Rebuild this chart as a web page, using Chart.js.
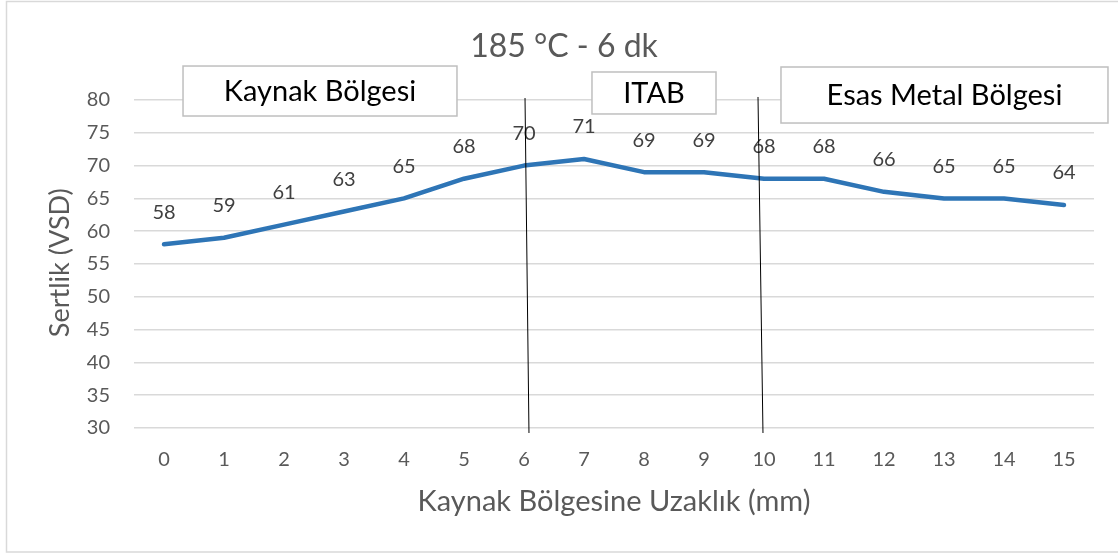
<!DOCTYPE html>
<html>
<head>
<meta charset="utf-8">
<script src="https://cdn.jsdelivr.net/npm/chart.js@4.4.1/dist/chart.umd.min.js"></script>
<style>
  html, body { margin: 0; padding: 0; background: #ffffff; }
  #wrap { width: 1118px; height: 553px; position: relative; }
</style>
</head>
<body>
<div id="wrap"><canvas id="c" width="1118" height="553"></canvas></div>
<script>
// ---- data ----
const categories = ['0','1','2','3','4','5','6','7','8','9','10','11','12','13','14','15'];
const hardness = [58, 59, 61, 63, 65, 68, 70, 71, 69, 69, 68, 68, 66, 65, 65, 64];
const yTicksMin = 30;
const yTicksMax = 80;
const yTicksStep = 5;
const chartTitle = '185 °C - 6 dk';
const xTitle = 'Kaynak Bölgesine Uzaklık (mm)';
const yTitle = 'Sertlik (VSD)';
const zoneLabels = ['Kaynak Bölgesi', 'ITAB', 'Esas Metal Bölgesi'];

// annotation geometry in axis units (category index, hardness value)
const zoneBoxes = [
  { x0: 0.317, x1: 4.883, y0: 85.18, y1: 77.56 },
  { x0: 7.133, x1: 9.2,   y0: 84.27, y1: 77.87 },
  { x0: 10.283, x1: 15.733, y0: 85.03, y1: 76.49 }
];
const dividers = [
  { xa: 6.017, ya: 80.3, xb: 6.083, yb: 29.24 },
  { xa: 9.9,   ya: 80.46, xb: 9.983, yb: 29.24 }
];

const FONT = 'Lato, "Open Sans", sans-serif';

const framePlugin = {
  id: 'frame',
  beforeDraw(chart) {
    const ctx = chart.ctx;
    ctx.save();
    ctx.fillStyle = '#ffffff';
    ctx.fillRect(0, 0, chart.width, chart.height);
    ctx.strokeStyle = '#d9d9d9';
    ctx.lineWidth = 1.5;
    ctx.strokeRect(6.5, 1.5, 1130, 550.5);
    ctx.restore();
  }
};

const titlePlugin = {
  id: 'chartTitleText',
  afterDraw(chart) {
    const ctx = chart.ctx;
    ctx.save();
    ctx.font = '32px ' + FONT;
    ctx.fillStyle = '#595959';
    ctx.textAlign = 'center';
    ctx.textBaseline = 'middle';
    ctx.fillText(chartTitle, 564, 47);
    ctx.restore();
  }
};

const labelPlugin = {
  id: 'valueLabels',
  afterDatasetsDraw(chart) {
    const ctx = chart.ctx;
    const meta = chart.getDatasetMeta(0);
    ctx.save();
    ctx.font = '20px ' + FONT;
    ctx.fillStyle = '#404040';
    ctx.textAlign = 'center';
    ctx.textBaseline = 'middle';
    meta.data.forEach((pt, i) => {
      ctx.fillText(String(hardness[i]), pt.x, pt.y - 32);
    });
    ctx.restore();
  }
};

const yTitlePlugin = {
  id: 'yTitle',
  afterDraw(chart) {
    const ctx = chart.ctx;
    const ys = chart.scales.y;
    ctx.save();
    ctx.translate(60, ys.getPixelForValue(55.2));
    ctx.rotate(-Math.PI / 2);
    ctx.font = '27px ' + FONT;
    ctx.fillStyle = '#595959';
    ctx.textAlign = 'center';
    ctx.textBaseline = 'middle';
    ctx.fillText(yTitle, 0, 0);
    ctx.restore();
  }
};

const zonePlugin = {
  id: 'zones',
  afterDraw(chart) {
    const ctx = chart.ctx;
    const xs = chart.scales.x, ys = chart.scales.y;
    ctx.save();
    dividers.forEach(d => {
      ctx.beginPath();
      ctx.strokeStyle = '#000000';
      ctx.lineWidth = 1;
      ctx.moveTo(xs.getPixelForValue(d.xa), ys.getPixelForValue(d.ya));
      ctx.lineTo(xs.getPixelForValue(d.xb), ys.getPixelForValue(d.yb));
      ctx.stroke();
    });
    zoneBoxes.forEach((b, i) => {
      const x0 = xs.getPixelForValue(b.x0), x1 = xs.getPixelForValue(b.x1);
      const y0 = ys.getPixelForValue(b.y0), y1 = ys.getPixelForValue(b.y1);
      ctx.fillStyle = '#ffffff';
      ctx.fillRect(x0, y0, x1 - x0, y1 - y0);
      ctx.strokeStyle = '#bfbfbf';
      ctx.lineWidth = 1.5;
      ctx.strokeRect(x0, y0, x1 - x0, y1 - y0);
      ctx.fillStyle = '#000000';
      ctx.font = '29px ' + FONT;
      ctx.textAlign = 'center';
      ctx.textBaseline = 'middle';
      ctx.fillText(zoneLabels[i], (x0 + x1) / 2, (y0 + y1) / 2 + 1);
    });
    ctx.restore();
  }
};

new Chart(document.getElementById('c'), {
  type: 'line',
  data: {
    labels: categories,
    datasets: [{
      data: hardness,
      borderColor: '#2e75b6',
      backgroundColor: '#2e75b6',
      borderWidth: 4.5,
      pointRadius: 0,
      tension: 0,
      borderCapStyle: 'round',
      borderJoinStyle: 'round'
    }]
  },
  options: {
    responsive: false,
    animation: false,
    devicePixelRatio: 1,
    layout: { padding: { left: 0, right: 24, top: 100, bottom: 0 } },
    plugins: {
      legend: { display: false },
      tooltip: { enabled: false },
      title: { display: false }
    },
    scales: {
      x: {
        type: 'category',
        offset: true,
        grid: { display: false, drawTicks: false },
        border: { display: false },
        ticks: { color: '#595959', font: { family: FONT, size: 20 }, padding: 20, maxRotation: 0, autoSkip: false },
        title: {
          display: true,
          text: xTitle,
          color: '#595959',
          font: { family: FONT, size: 29, lineHeight: 1.2 },
          padding: { top: 0, bottom: 33.6 }
        },
        afterFit(scale) { scale.height = 125; }
      },
      y: {
        min: yTicksMin,
        max: yTicksMax,
        ticks: { stepSize: yTicksStep, color: '#595959', font: { family: FONT, size: 20 }, padding: 24 },
        grid: { color: '#d9d9d9', lineWidth: 1.5, drawTicks: false },
        border: { display: false },
        afterFit(scale) { scale.width = 134; }
      }
    }
  },
  plugins: [framePlugin, labelPlugin, yTitlePlugin, zonePlugin, titlePlugin]
});
</script>
</body>
</html>
